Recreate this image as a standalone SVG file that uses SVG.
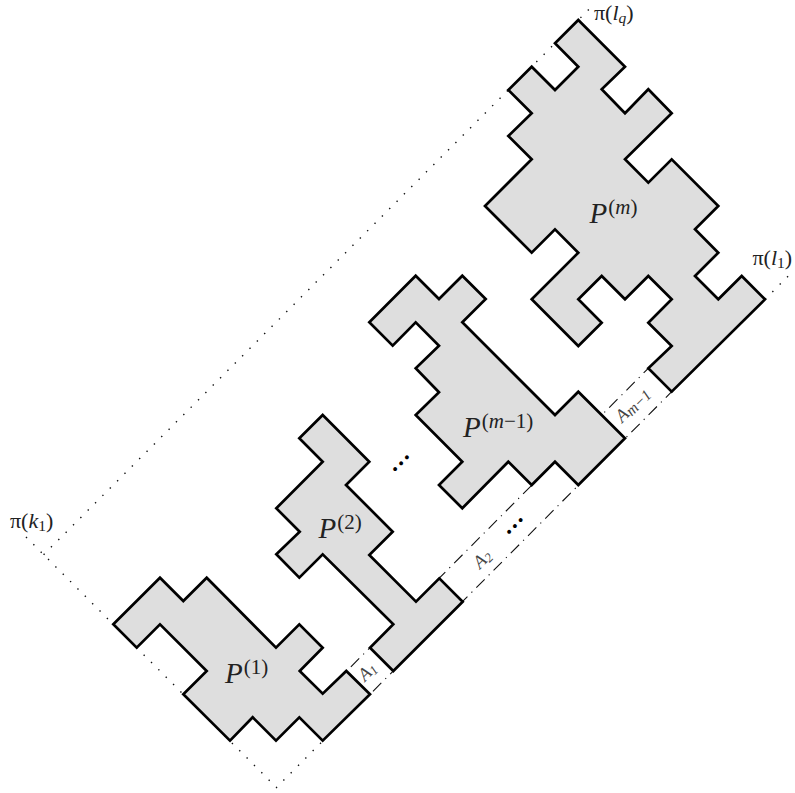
<svg xmlns="http://www.w3.org/2000/svg" width="795" height="793" viewBox="0 0 795 793">
<style>
.poly{fill:#dedede;stroke:#000;stroke-width:2.7;stroke-linejoin:miter}
.dot{fill:none;stroke:#111;stroke-width:1.4;stroke-dasharray:1.4 9}
.dd{fill:none;stroke:#111;stroke-width:1.1}
text{font-family:"Liberation Serif","Times New Roman",serif;fill:#222}
.p{font-size:29px;font-style:italic}
.sup{font-size:21px;font-style:normal}
.supi{font-size:21px;font-style:italic}
.pi{font-size:22px}
.i{font-style:italic}
.sub{font-size:15.5px}
.a{font-size:18.5px;font-style:italic;fill:#444}
.asub{font-size:13px}
.asubl{font-size:15.5px}
.e{font-size:33px;fill:#000;text-anchor:middle}
</style>
<g id="connectors">
<path class="dot" d="M26 537L276.5 787.5L322.7 741"/>
<path class="dot" d="M43.6 554.7L590 8.3"/>
<path class="dot" d="M765 299.3L790 274.3"/>
<path class="dd" stroke-dasharray="11.8 5.7 1.2 5.7" stroke-dashoffset="18.5" d="M346.7 671L648.3 368.3"/>
<path class="dd" stroke-dasharray="11.8 5.7 1.2 5.7" stroke-dashoffset="20.2" d="M370 694.3L671.7 391.7"/>
</g>
<g id="P1">
<polygon class="poly" points="113.3,624.3 160,577.7 183.3,601 206.7,577.7 276,647.7 299.3,624.3 322.7,647.7 299.7,671 322.7,693.7 346.3,671 370,694.3 322.7,740.7 299.3,717.3 276,740.7 252.7,717.3 230,740.7 183.3,694.3 206.7,671 160,624.3 136.7,647.7"/>
<text class="p" x="225" y="683">P<tspan class="sup" dy="-9" dx="1">(1)</tspan></text>
</g>
<g id="P2">
<polygon class="poly" points="322.7,415 369.3,461.7 346,485 392.7,531.7 369.3,555 416,601.7 439.3,578.3 462.7,601.7 393.3,671 370,647.7 393.3,624.3 322.7,554.3 299.3,577.7 276.3,554.3 299.7,531.7 276.3,508.3 322.7,461.7 299.3,438.3"/>
<text class="p" x="318.5" y="538">P<tspan class="sup" dy="-9" dx="1">(2)</tspan></text>
</g>
<g id="Pm1">
<polygon class="poly" points="415.7,275.7 439,299 462.3,275.7 485.7,299 462.3,322.3 555,415 578.3,391.7 625,438.3 578.3,485 555,461.7 531.7,485 508.3,461.7 462.3,508.3 439,485 462.3,461.7 415.7,415 439,392.3 415.7,368.3 439,345.7 415.7,322.3 392.7,345.7 369.3,322.3"/>
<text class="p" x="463" y="437">P<tspan class="sup" dy="-9" dx="1">(<tspan class="supi">m</tspan>−1)</tspan></text>
</g>
<g id="Pm">
<polygon class="poly" points="578.3,20 625,66.7 601.7,89.3 625,113.3 648.3,89.3 671.7,113.3 625,159.3 648.3,182.7 671.7,159.3 718.3,206 695,229.3 718.3,252.7 695,276 718.3,299.3 741.7,276 765,299.3 671.7,391.7 648.3,368.3 671.7,346 648.3,322.7 671.7,299.3 648.3,276 625,299.3 601.7,276 578.3,299.3 601.7,322.7 578.3,346 531.7,299.3 578.3,252.7 555,229.3 531.7,252.7 485,206 531.7,159.3 508.3,136 531.7,113.3 508.3,90 531.7,66.7 555,90 578.3,66.7 555,43.3"/>
<text class="p" x="589.5" y="222.5">P<tspan class="sup" dy="-9" dx="1">(<tspan class="supi">m</tspan>)</tspan></text>
</g>
<g id="labels">
<text class="pi" x="10" y="528">π(<tspan class="i">k</tspan><tspan class="sub" dy="3">1</tspan><tspan dy="-3">)</tspan></text>
<text class="pi" x="594" y="20">π(<tspan class="i">l</tspan><tspan class="sub i" dy="3">q</tspan><tspan dy="-3">)</tspan></text>
<text class="pi" x="752.5" y="265">π(<tspan class="i">l</tspan><tspan class="sub" dy="3">1</tspan><tspan dy="-3">)</tspan></text>
<text class="a" transform="translate(365 682) rotate(-45)" x="0" y="0">A<tspan class="asub" dy="2">1</tspan></text>
<text class="a" transform="translate(480 569.5) rotate(-45)" x="0" y="0">A<tspan class="asub" dy="2">2</tspan></text>
<text class="a" transform="translate(622.3 423.3) rotate(-45)" x="0" y="0">A<tspan class="asubl" dy="2">m−1</tspan></text>
<text class="e" transform="translate(514.6 525.7) rotate(-45)" y="1.8">...</text>
<text class="e" transform="translate(400.8 463) rotate(-45)" y="1.8">...</text>
</g>
</svg>
